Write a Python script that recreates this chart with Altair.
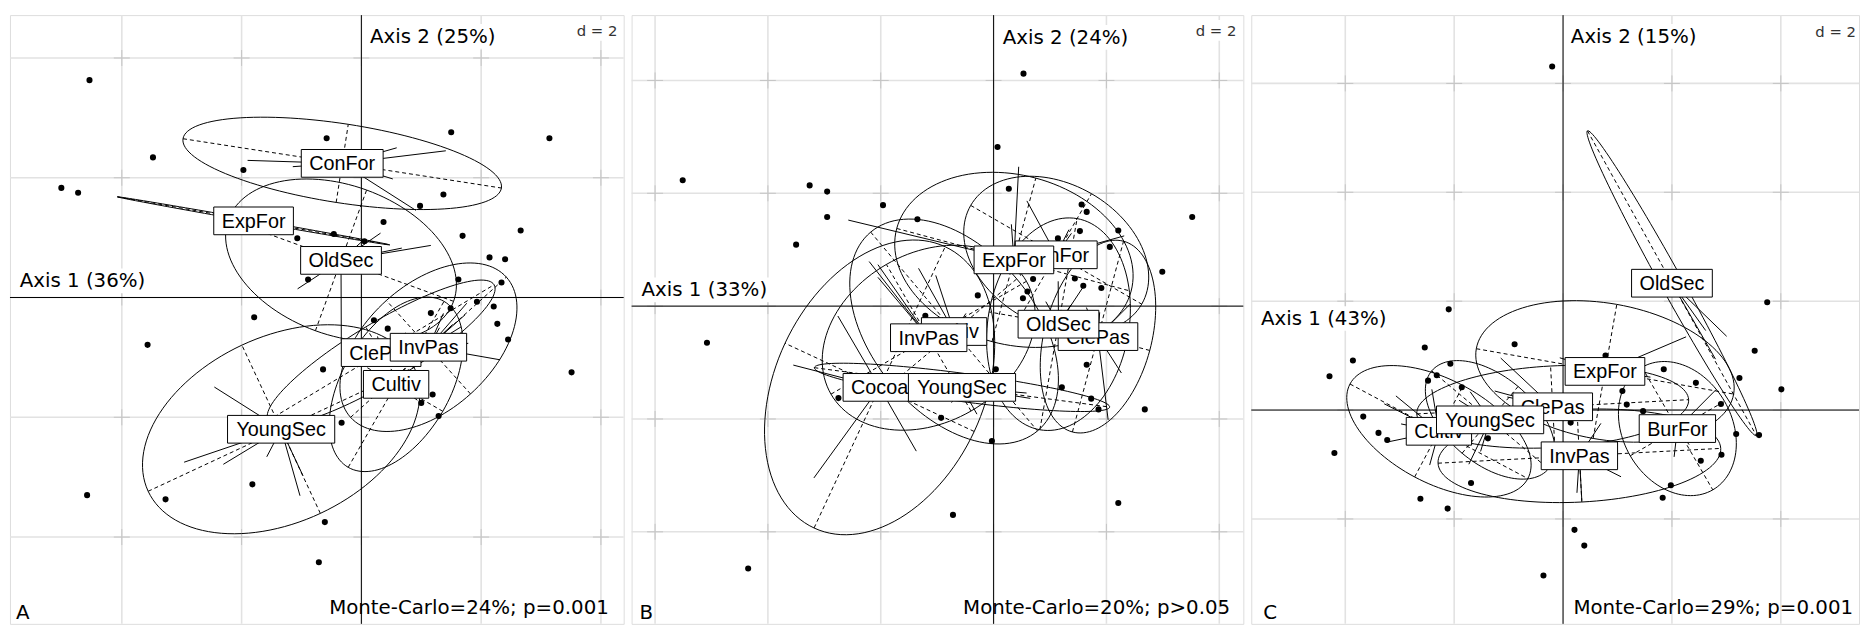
import math
import numpy as np
import pandas as pd
import altair as alt

# ---------------- Panel A ----------------
A_classes = ["ConFor", "ExpFor", "OldSec", "ClePas", "InvPas", "Cultiv", "YoungSec"]
A_cx = [-0.32, -1.80, -0.34, 0.33, 1.12, 0.58, -1.34]
A_cy = [2.24, 1.28, 0.62, -0.92, -0.83, -1.45, -2.20]
A_ea = [2.69, 2.31, 2.00, 2.20, 1.75, 1.60, 2.45]
A_eb = [0.66, 0.02, 1.25, 0.50, 1.05, 0.90, 1.55]
A_eang = [-8.8, -10.0, -20.0, 31.0, 42.0, 60.0, 25.0]
A_x = [-4.54, -3.48, -5.01, -4.73, -0.58, -1.97, 1.50, 3.14, 1.37, 0.98,
       0.37, 1.69, 2.66, -1.07, -0.46, 0.05, 2.14, 2.40, -0.89, 1.62,
       2.34, 1.93, 1.49, 2.21, 1.16, -1.79, 0.21, 0.44, 2.27, 2.45,
       -3.57, -0.64, 1.19, 1.00, 1.29, 3.51, -0.33, -4.58, -3.27, -1.82,
       -0.61, -0.71]
A_y = [3.63, 2.34, 1.83, 1.75, 2.66, 2.13, 2.76, 2.66, 1.72, 1.53,
       1.26, 1.03, 1.12, 0.99, 1.06, 0.94, 0.67, 0.64, 0.30, 0.30,
       0.25, -0.07, -0.18, -0.15, -0.26, -0.33, -0.38, -0.52, -0.44, -0.70,
       -0.79, -1.20, -1.62, -1.76, -1.98, -1.25, -2.09, -3.30, -3.37, -3.12,
       -3.75, -4.42]
A_grp = ["", "ConFor", "", "", "ConFor", "ConFor", "ConFor", "ConFor", "ConFor", "OldSec",
         "OldSec", "OldSec", "OldSec", "OldSec", "OldSec", "OldSec", "ConFor", "InvPas", "OldSec", "InvPas",
         "InvPas", "InvPas", "InvPas", "InvPas", "ClePas", "OldSec", "ClePas", "ClePas", "InvPas", "InvPas",
         "YoungSec", "ClePas", "Cultiv", "Cultiv", "Cultiv", "InvPas", "OldSec", "YoungSec", "YoungSec", "YoungSec",
         "YoungSec", "YoungSec"]

# ---------------- Panel B ----------------
B_classes = ["ExpFor", "ConFor", "OldSec", "ClePas", "Cultiv", "InvPas", "Cocoa", "YoungSec"]
B_cx = [0.36, 1.11, 1.15, 1.85, -0.70, -1.15, -2.02, -0.56]
B_cy = [0.82, 0.91, -0.32, -0.54, -0.45, -0.56, -1.44, -1.44]
B_ea = [2.15, 1.75, 1.90, 1.75, 2.30, 2.00, 2.75, 2.64]
B_eb = [1.50, 1.25, 1.25, 0.95, 1.45, 1.50, 1.85, 0.25]
B_eang = [-15.0, -30.0, 80.0, 75.0, -50.0, 30.0, 65.0, -7.6]
B_x = [0.53, 0.07, -5.51, -3.26, -2.95, -1.96, -2.95, -1.35, -3.50, 0.27,
       1.56, 1.65, 2.21, 1.53, 1.14, 2.06, 3.52, 2.99, 0.70, 1.44,
       1.59, 1.91, 0.60, 0.52, -0.28, -1.21, 1.65, 0.04, 1.21, 1.73,
       1.86, 2.68, -2.75, -0.93, -0.03, -5.08, 2.21, -0.72, -4.35]
B_y = [4.12, 2.82, 2.23, 2.14, 2.03, 1.79, 1.58, 1.54, 1.09, 2.08,
       1.80, 1.67, 1.34, 1.33, 1.20, 1.05, 1.58, 0.61, 0.48, 0.49,
       0.36, 0.32, 0.26, 0.14, 0.19, -0.17, -1.04, -1.12, -1.44, -1.64,
       -1.83, -1.83, -1.63, -1.98, -2.39, -0.65, -3.49, -3.70, -4.65]
B_grp = ["ExpFor", "ConFor", "ExpFor", "InvPas", "InvPas", "Cultiv", "InvPas", "Cultiv", "Cocoa", "ExpFor",
         "ConFor", "ConFor", "ConFor", "ConFor", "OldSec", "OldSec", "ConFor", "ClePas", "OldSec", "ClePas",
         "OldSec", "ClePas", "ExpFor", "OldSec", "Cultiv", "InvPas", "ClePas", "YoungSec", "YoungSec", "YoungSec",
         "YoungSec", "ClePas", "Cocoa", "YoungSec", "YoungSec", "Cocoa", "ClePas", "Cocoa", "Cocoa"]

# ---------------- Panel C ----------------
C_classes = ["OldSec", "ExpFor", "ClePas", "YoungSec", "Cultiv", "InvPas", "BurFor"]
C_cx = [2.00, 0.77, -0.19, -1.34, -2.28, 0.30, 2.10]
C_cy = [2.33, 0.71, 0.06, -0.18, -0.39, -0.84, -0.34]
C_ea = [3.20, 2.40, 2.50, 1.40, 1.85, 2.60, 1.30]
C_eb = [0.20, 1.25, 0.75, 0.80, 0.95, 0.85, 1.00]
C_eang = [-61.0, -10.0, 3.0, -40.0, -28.0, 3.0, -60.0]
C_x = [-0.20, 3.75, -2.10, 3.52, 4.01, 3.60, 3.18, 2.91, 2.53, 1.98,
       1.83, 2.90, 3.24, 2.44, 1.85, 0.78, 1.09, 1.17, 1.47, -0.89,
       -2.54, -3.86, -4.29, -2.07, -2.32, -2.48, -1.86, -3.67, -3.39, -3.23,
       -4.20, -1.38, -1.69, -2.62, -2.12, 0.21, 0.39, -0.36, 0.14]
C_y = [6.31, 1.98, 1.85, 1.09, 0.38, -0.46, -0.44, -0.82, -0.93, -1.38,
       -1.61, 0.11, 0.59, 0.50, 0.75, 1.00, 0.35, 0.10, -0.02, 1.21,
       1.15, 0.91, 0.62, 0.85, 0.64, 0.54, 0.42, -0.12, -0.42, -0.55,
       -0.79, -0.52, -1.34, -1.63, -1.81, -2.20, -2.49, -3.04, -0.23]
C_grp = ["", "ExpFor", "ClePas", "BurFor", "OldSec", "OldSec", "BurFor", "BurFor", "BurFor", "BurFor",
         "InvPas", "BurFor", "OldSec", "ExpFor", "ExpFor", "ExpFor", "InvPas", "ClePas", "BurFor", "ExpFor",
         "Cultiv", "Cultiv", "Cultiv", "YoungSec", "ClePas", "YoungSec", "ClePas", "Cultiv", "Cultiv", "Cultiv",
         "Cultiv", "YoungSec", "YoungSec", "Cultiv", "YoungSec", "InvPas", "InvPas", "", "ClePas"]

A_texts = ["Axis 2 (25%)", "Axis 1 (36%)", "Monte-Carlo=24%; p=0.001", "A"]
B_texts = ["Axis 2 (24%)", "Axis 1 (33%)", "Monte-Carlo=20%; p>0.05", "B"]
C_texts = ["Axis 2 (15%)", "Axis 1 (43%)", "Monte-Carlo=29%; p=0.001", "C"]

# Liberation Sans advance widths (per 1000 em) for label boxes
CW = {"C": 722, "o": 556, "n": 556, "F": 611, "r": 333, "E": 667, "x": 500, "p": 556,
      "O": 778, "l": 222, "d": 556, "S": 667, "e": 556, "c": 500, "P": 667, "a": 556,
      "s": 500, "I": 278, "v": 500, "u": 556, "t": 278, "i": 222, "Y": 667, "g": 556,
      "B": 667}
LABEL_FS = 20


def text_w(s):
    return sum(CW.get(ch, 556) for ch in s) * LABEL_FS / 1000.0


def build_panel(classes, cx, cy, ea, eb, eang, xs, ys, grp, texts, lay):
    W, H, ox, oy, s = lay["W"], lay["H"], lay["ox"], lay["oy"], lay["s"]
    xdom = [-ox / s, (W - ox) / s]
    ydom = [-(H - oy) / s, oy / s]
    X = alt.X("x:Q", scale=alt.Scale(domain=xdom, nice=False, zero=False), axis=None)
    Y = alt.Y("y:Q", scale=alt.Scale(domain=ydom, nice=False, zero=False), axis=None)
    layers = []

    gx = [v for v in range(-10, 11, 2) if xdom[0] < v < xdom[1]]
    gy = [v for v in range(-10, 11, 2) if ydom[0] < v < ydom[1]]
    layers.append(alt.Chart(pd.DataFrame({"x": gx})).mark_rule(color="#e2e2e2", strokeWidth=1.6).encode(x=X))
    layers.append(alt.Chart(pd.DataFrame({"y": gy})).mark_rule(color="#e2e2e2", strokeWidth=1.6).encode(y=Y))
    cross = pd.DataFrame([(a, b) for a in gx for b in gy], columns=["x", "y"])
    layers.append(alt.Chart(cross).mark_point(shape="M-1,0L1,0M0,-1L0,1", filled=False,
                                              color="#c4c4c4", strokeWidth=1, size=260, opacity=1)
                  .encode(x=X, y=Y))

    # white boxes behind axis titles and d = 2
    one = pd.DataFrame({"k": [0]})
    for (x1, x2, y1, y2) in lay["boxes"]:
        layers.append(alt.Chart(one).mark_rect(color="white").encode(
            x=alt.value(x1), x2=alt.value(x2), y=alt.value(y1), y2=alt.value(y2)))

    # principal axes through origin
    layers.append(alt.Chart(pd.DataFrame({"x": [0]})).mark_rule(color="black", strokeWidth=1).encode(x=X))
    layers.append(alt.Chart(pd.DataFrame({"y": [0]})).mark_rule(color="black", strokeWidth=1).encode(y=Y))

    # ellipses
    rows, axes = [], []
    t = np.linspace(0, 2 * math.pi, 121)
    for k, c in enumerate(classes):
        th = math.radians(eang[k])
        ux, uy = math.cos(th), math.sin(th)
        vx, vy = -math.sin(th), math.cos(th)
        for i, tt in enumerate(t):
            px = cx[k] + ea[k] * math.cos(tt) * ux + eb[k] * math.sin(tt) * vx
            py = cy[k] + ea[k] * math.cos(tt) * uy + eb[k] * math.sin(tt) * vy
            rows.append((c, i, px, py))
        axes.append((cx[k] - ea[k] * ux, cy[k] - ea[k] * uy, cx[k] + ea[k] * ux, cy[k] + ea[k] * uy))
        if eb[k] > 0.1:
            axes.append((cx[k] - eb[k] * vx, cy[k] - eb[k] * vy, cx[k] + eb[k] * vx, cy[k] + eb[k] * vy))
    edf = pd.DataFrame(rows, columns=["cls", "t", "x", "y"])
    layers.append(alt.Chart(edf).mark_line(color="black", strokeWidth=1, clip=True).encode(
        x=X, y=Y, detail="cls:N", order="t:Q"))
    adf = pd.DataFrame(axes, columns=["x", "y", "x2", "y2"])
    layers.append(alt.Chart(adf).mark_rule(color="black", strokeWidth=1, strokeDash=[4, 3], clip=True).encode(
        x=X, y=Y, x2="x2:Q", y2="y2:Q"))

    # stars (half-length segments from class centre towards members)
    cmap = {c: (cx[k], cy[k]) for k, c in enumerate(classes)}
    st = []
    for px, py, g in zip(xs, ys, grp):
        if g in cmap:
            gx0, gy0 = cmap[g]
            st.append((gx0, gy0, gx0 + 0.5 * (px - gx0), gy0 + 0.5 * (py - gy0)))
    sdf = pd.DataFrame(st, columns=["x", "y", "x2", "y2"])
    layers.append(alt.Chart(sdf).mark_rule(color="black", strokeWidth=1, clip=True).encode(
        x=X, y=Y, x2="x2:Q", y2="y2:Q"))

    # points
    pdf = pd.DataFrame({"x": xs, "y": ys})
    layers.append(alt.Chart(pdf).mark_circle(color="black", size=38, opacity=1).encode(x=X, y=Y))

    # labels, alphabetical drawing order
    hh = 14.0 / s
    for c in sorted(classes):
        k = classes.index(c)
        hw = (text_w(c) + 16) / 2.0 / s
        ldf = pd.DataFrame({"x": [cx[k] - hw], "x2": [cx[k] + hw], "y": [cy[k] - hh], "y2": [cy[k] + hh]})
        layers.append(alt.Chart(ldf).mark_rect(fill="white", stroke="black", strokeWidth=1).encode(
            x=X, y=Y, x2="x2:Q", y2="y2:Q"))
        tdf = pd.DataFrame({"x": [cx[k]], "y": [cy[k]], "lab": [c]})
        layers.append(alt.Chart(tdf).mark_text(font="Liberation Sans", fontSize=LABEL_FS, color="black",
                                              baseline="middle", align="center", dy=1).encode(
            x=X, y=Y, text="lab:N"))

    # annotation texts
    specs = [
        (texts[0], lay["ax2"][0], lay["ax2"][1], "left", 20, "black"),
        (texts[1], lay["ax1"][0], lay["ax1"][1], "left", 20, "black"),
        ("d = 2", lay["d"][0], lay["d"][1], "right", 15, "#333333"),
        (texts[2], lay["mc"][0], lay["mc"][1], "right", 20, "black"),
        (texts[3], lay["let"][0], lay["let"][1], "left", 20, "black"),
    ]
    for (tx, px, py, al, fs, col) in specs:
        layers.append(alt.Chart(pd.DataFrame({"t": [tx]})).mark_text(
            font="DejaVu Sans", fontSize=fs, color=col, align=al, baseline="alphabetic").encode(
            x=alt.value(px), y=alt.value(py), text="t:N"))

    return alt.layer(*layers).properties(width=W, height=H)


H = 615
layA = dict(W=620, H=H, ox=355, oy=285.3, s=60.5,
            ax2=(363.7, 28), ax1=(9.8, 275), d=(613.7, 21), mc=(605, 605), let=(6, 610),
            boxes=[(361, 494, 9, 34), (7, 140, 256, 281), (568, 617, 5, 26)])
layB = dict(W=618, H=H, ox=365.7, oy=294, s=57.0,
            ax2=(374.9, 29), ax1=(10, 284), d=(611, 21), mc=(604.7, 605), let=(8, 610),
            boxes=[(372, 505, 10, 35), (7, 141, 265, 290), (565, 614, 5, 26)])
layC = dict(W=614, H=H, ox=315, oy=399, s=55.0,
            ax2=(322.9, 28), ax1=(9.8, 313), d=(611, 22), mc=(608, 605), let=(12, 610),
            boxes=[(320, 453, 9, 34), (7, 140, 294, 319), (565, 613, 6, 27)])

pA = build_panel(A_classes, A_cx, A_cy, A_ea, A_eb, A_eang, A_x, A_y, A_grp, A_texts, layA)
pB = build_panel(B_classes, B_cx, B_cy, B_ea, B_eb, B_eang, B_x, B_y, B_grp, B_texts, layB)
pC = build_panel(C_classes, C_cx, C_cy, C_ea, C_eb, C_eang, C_x, C_y, C_grp, C_texts, layC)

chart = (alt.hconcat(pA, pB, pC, spacing=4)
         .properties(padding={"left": 0, "top": 2, "right": 0, "bottom": 0})
         .configure_view(stroke="black", strokeWidth=1.5, fill="white")
         .configure(background="white"))

chart.save("out.html", embed_options={"renderer": "svg", "actions": False})
